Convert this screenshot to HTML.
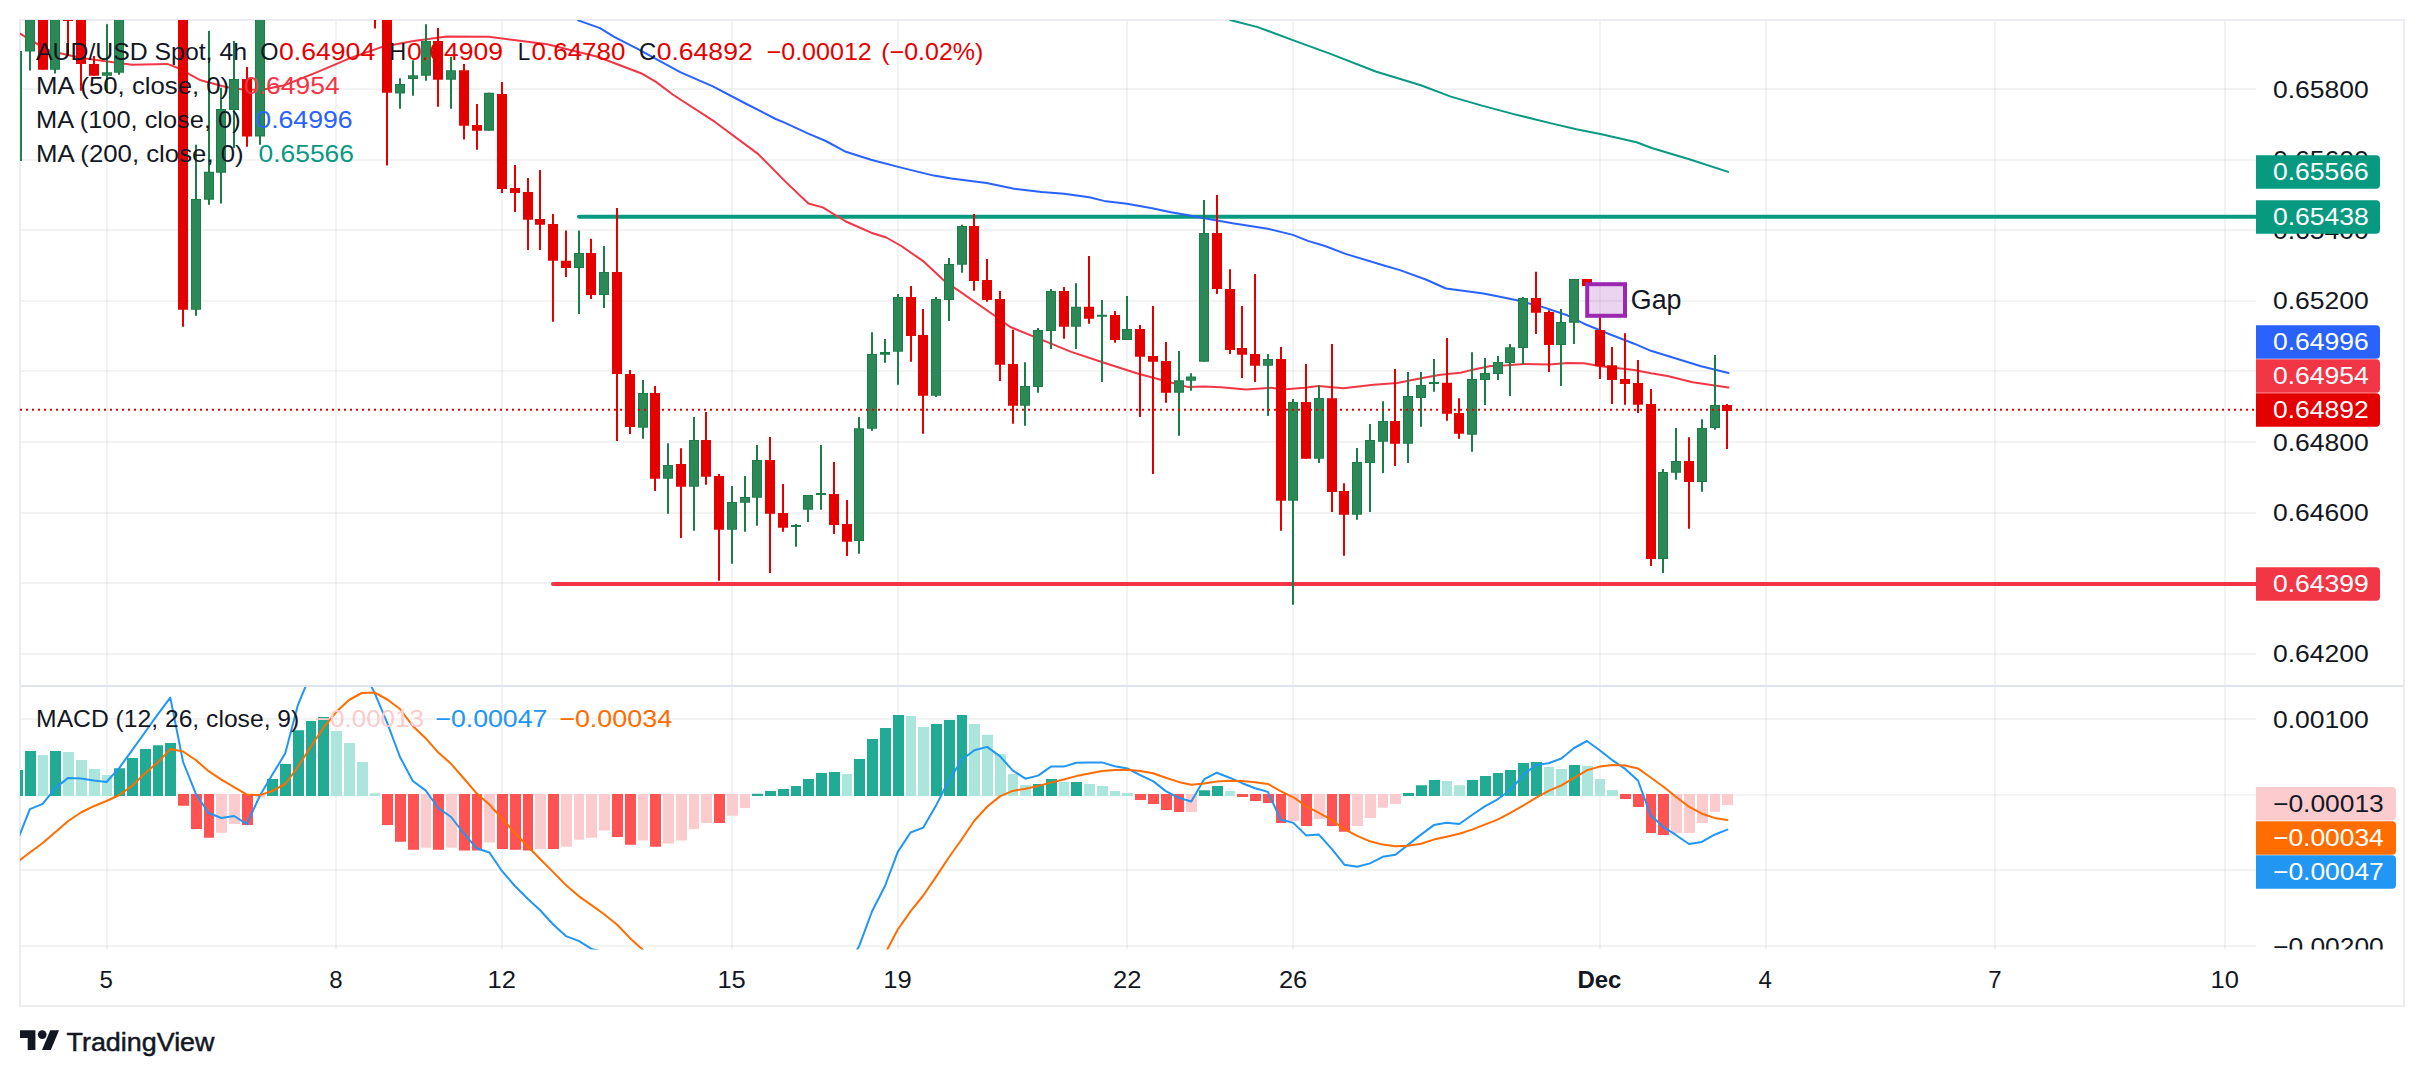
<!DOCTYPE html>
<html lang="en"><head><meta charset="utf-8"><title>AUD/USD Spot 4h chart</title>
<style>html,body{margin:0;padding:0;background:#fff;}body{width:2424px;height:1076px;overflow:hidden;}svg{display:block;}text{font-family:"Liberation Sans", Arial, sans-serif;font-size:24px;white-space:pre;}</style></head><body>
<svg width="2424" height="1076" viewBox="0 0 2424 1076" fill="#131722">
<defs>
<clipPath id="cp"><rect x="20" y="20" width="2236" height="666"/></clipPath>
<clipPath id="cm"><rect x="20" y="687" width="2236" height="262.5"/></clipPath>
</defs>
<rect width="2424" height="1076" fill="#fff"/>
<path d="M107 21V949.5M336 21V949.5M502 21V949.5M732 21V949.5M898 21V949.5M1127 21V949.5M1293 21V949.5M1600 21V949.5M1766 21V949.5M1995 21V949.5M2225 21V949.5" stroke="rgba(42,46,57,0.06)" stroke-width="2" fill="none"/>
<path d="M21 89H2256M21 160H2256M21 230H2256M21 301H2256M21 371H2256M21 442H2256M21 513H2256M21 583H2256M21 654H2256M21 719H2256M21 795H2256M21 870H2256M21 946H2256" stroke="rgba(42,46,57,0.06)" stroke-width="2" fill="none"/>
<rect x="20" y="20" width="2384" height="986" fill="none" stroke="#ebecf2" stroke-width="2"/>
<rect x="21" y="685" width="2382" height="2" fill="#e0e3eb"/>
<g>
<text x="2273" y="97.5" textLength="95.8" lengthAdjust="spacingAndGlyphs">0.65800</text>
<text x="2273" y="168.1" textLength="95.8" lengthAdjust="spacingAndGlyphs">0.65600</text>
<text x="2273" y="238.7" textLength="95.8" lengthAdjust="spacingAndGlyphs">0.65400</text>
<text x="2273" y="309.3" textLength="95.8" lengthAdjust="spacingAndGlyphs">0.65200</text>
<text x="2273" y="379.9" textLength="95.8" lengthAdjust="spacingAndGlyphs">0.65000</text>
<text x="2273" y="450.5" textLength="95.8" lengthAdjust="spacingAndGlyphs">0.64800</text>
<text x="2273" y="521.1" textLength="95.8" lengthAdjust="spacingAndGlyphs">0.64600</text>
<text x="2273" y="591.7" textLength="95.8" lengthAdjust="spacingAndGlyphs">0.64400</text>
<text x="2273" y="662.3" textLength="95.8" lengthAdjust="spacingAndGlyphs">0.64200</text>
<text x="2273" y="727.5" textLength="95.8" lengthAdjust="spacingAndGlyphs">0.00100</text>
<text x="2273" y="803.5" textLength="95.8" lengthAdjust="spacingAndGlyphs">0.00000</text>
<text x="2273" y="878.8" textLength="110.8" lengthAdjust="spacingAndGlyphs">−0.00100</text>
</g>
<clipPath id="cb"><rect x="2256" y="900" width="148" height="49.5"/></clipPath>
<g clip-path="url(#cb)"><text x="2273" y="954.7" textLength="110.8" lengthAdjust="spacingAndGlyphs">−0.00200</text></g>
<g clip-path="url(#cp)">
<path d="M579 216.8H2260" stroke="#089981" stroke-width="4" stroke-linecap="round" fill="none"/>
<path d="M553 583.9H2260" stroke="#f23645" stroke-width="4" stroke-linecap="round" fill="none"/>
<path d="M1230.1 20L1257.7 27.1L1292.8 40.1L1330.5 53.9L1375.7 71.5L1420.8 85.3L1450.9 96.6L1481.1 105.4L1513.7 114.1L1551.3 123.4L1576.4 129.2L1601.5 134.2L1636.6 142.2L1651.7 148L1689.3 159.3L1728.2 171.9" stroke="#089981" stroke-width="2" fill="none" stroke-linejoin="round" stroke-linecap="round"/>
<path d="M578.2 20.4L600 28.1L614.2 36.8L637.6 48.9L647.6 54.3L680.7 72.4L712.9 86.3L745.5 103.5L775.7 119L784 122.4L808.3 133.7L825.8 141L845.9 151.8L871 159.8L901.1 167.6L933.8 175.6L951.3 178.6L986.6 183L1014.1 188.7L1041.7 191.9L1064.2 193.7L1089.3 197.3L1104 200.9L1127 203.7L1152.1 208.2L1170.9 212.3L1187.2 215L1204.4 218.3L1232.6 223.3L1267.8 228.7L1292.9 234.9L1307.9 240.9L1325 246L1345.5 253.9L1385.7 266L1400 270.1L1425.8 279.5L1446 288.5L1483.6 293.6L1517.1 300.3L1542.2 306.9L1567.3 315.3L1584 323.7L1609.1 334L1634.2 343.7L1650.9 350.8L1676 358.5L1701.1 366.3L1728.5 373" stroke="#2962ff" stroke-width="2" fill="none" stroke-linejoin="round" stroke-linecap="round"/>
<path d="M20.3 33.7L30 40L50.2 51L80.3 57.7L103.7 61L132.2 64.7L167.3 63.9L177.3 67.7L200.7 80.3L225.8 87L242.6 89.5L261 90L284.4 85.3L317.8 71.9L351.3 57.7L381.4 47.1L413.5 40.9L447 36.4L488.7 36.8L513.8 40.1L547.3 44.3L597.5 56.8L641 73.2L656 81.9L672.7 94.5L714.6 121.7L758 153.9L785.7 181.9L808.4 203.5L822.7 207.4L845.9 221.5L871.2 232.7L886.3 237.5L901.3 246L923.1 261.1L944 280.5L953.5 287.1L991.9 313.8L1010.3 327L1037.1 337.9L1070.6 351.6L1104 362.7L1137.5 373.5L1162.6 380.2L1187.6 386.9L1204.4 386.4L1221.1 387.2L1246.2 389.4L1271.3 387.7L1283 389.4L1304.7 387.7L1318.4 386.1L1343.5 388.3L1373.6 384.8L1397.1 383.1L1423.8 377.8L1440.6 374.8L1460.6 372.8L1474 369.4L1490.7 365.9L1507.5 365.2L1524.2 363.9L1549.3 364.4L1567.3 363L1584 363.3L1600.7 366.3L1634.2 369.9L1650.9 373.2L1667.6 376L1692.7 382.3L1728.5 387.6" stroke="#f23645" stroke-width="2" fill="none" stroke-linejoin="round" stroke-linecap="round"/>
<path d="M17 51V161M30 0V70.5M55 0V73.6M107 24.2V92.5M119 0V74.7M196 144.7V315.8M209 30.9V204.8M221 87.8V203.6M234 41V148M260 0V144.7M400 78.3V108.7M413 60.2V95.8M426 24.2V80.8M451 56.8V108.7M489 92.8V130.8M579 230.6V314.1M604 246V307.9M643 380.1V438.7M668 443.2V513.8M694 417V530.8M732 486V563.8M745 476V531.7M757 445V525.8M796 524V546.7M808 495V522M821 445V509.8M859 417V553.7M872 332.2V430.8M885 338.9V362.8M898 294V384.8M936 297.1V397M949 258.1V320.9M962 224.8V272.8M1025 362.2V425.7M1038 328V392.8M1051 289.1V348.9M1076 283.2V348.9M1102 299.9V381.9M1127 295.9V339.9M1179 351V435.8M1191 373.2V390.8M1204 200.1V361.8M1268 354V415.9M1293 399.1V604.8M1319 385.2V462.9M1357 448V519.8M1370 424.1V511.9M1383 401.2V472.9M1408 371.9V462.9M1421 371.9V426.8M1434 359V391.7M1472 352.2V451.8M1485 358V405M1498 356V380M1510 344V395.9M1523 296.9V364M1561 309V385.9M1574 279V344M1663 469V573M1676 428V479.8M1702 419.3V491.7M1715 355.1V429.8" stroke="#1b7e47" stroke-width="2" fill="none"/>
<path d="M12 51h10v110h-10zM25 0h10v51.5h-10zM50 0h10v69.7h-10zM102 72.2h10v3.5h-10zM114 0h10v72.7h-10zM191 198.9h10v110.9h-10zM204 171.8h10v28h-10zM216 109h10v63.7h-10zM229 78.9h10v31h-10zM255 0h10v136.6h-10zM395 84.1h10v9.5h-10zM408 75.2h10v3.7h-10zM421 40.9h10v34.8h-10zM446 70.2h10v9.6h-10zM484 92.8h10v38h-10zM574 253.1h10v15h-10zM599 272h10v23.1h-10zM638 393h10v34.8h-10zM663 465h10v13.8h-10zM689 440h10v46.8h-10zM727 501.9h10v27.9h-10zM740 496.9h10v5.8h-10zM752 460h10v37.7h-10zM791 525h10v2h-10zM803 495h10v14.8h-10zM816 493h10v2h-10zM854 428.2h10v112.7h-10zM867 354h10v74.7h-10zM880 352h10v2.8h-10zM893 297.1h10v54.7h-10zM931 299.1h10v96.7h-10zM944 264.1h10v35.8h-10zM957 226h10v38.8h-10zM1020 386.1h10v19.7h-10zM1033 330h10v56.9h-10zM1046 290.9h10v40h-10zM1071 306.8h10v20h-10zM1097 314.7h10v2.1h-10zM1122 329h10v10.9h-10zM1174 380.2h10v12.6h-10zM1186 376.4h10v4.3h-10zM1199 233h10v128.8h-10zM1263 359h10v6.7h-10zM1288 402h10v98.7h-10zM1314 398.1h10v60.7h-10zM1352 462h10v52.8h-10zM1365 440h10v22.9h-10zM1378 420.9h10v20.9h-10zM1403 395.9h10v47.9h-10zM1416 385h10v12.9h-10zM1429 382h10v2h-10zM1467 379h10v55.7h-10zM1480 373.1h10v6.9h-10zM1493 361.9h10v12h-10zM1505 347.2h10v15.9h-10zM1518 298.1h10v49.8h-10zM1556 322h10v23h-10zM1569 279h10v43.8h-10zM1658 472h10v86.9h-10zM1671 461.1h10v11.7h-10zM1697 428.1h10v53.9h-10zM1710 405h10v23h-10z" fill="#1b7e47"/>
<path d="M13 52h8v108h-8zM26 1h8v49.5h-8zM51 1h8v67.7h-8zM103 73.2h8v1.5h-8zM115 1h8v70.7h-8zM192 199.9h8v108.9h-8zM205 172.8h8v26h-8zM217 110h8v61.7h-8zM230 79.9h8v29h-8zM256 1h8v134.6h-8zM396 85.1h8v7.5h-8zM409 76.2h8v1.7h-8zM422 41.9h8v32.8h-8zM447 71.2h8v7.6h-8zM485 93.8h8v36h-8zM575 254.1h8v13h-8zM600 273h8v21.1h-8zM639 394h8v32.8h-8zM664 466h8v11.8h-8zM690 441h8v44.8h-8zM728 502.9h8v25.9h-8zM741 497.9h8v3.8h-8zM753 461h8v35.7h-8zM804 496h8v12.8h-8zM855 429.2h8v110.7h-8zM868 355h8v72.7h-8zM894 298.1h8v52.7h-8zM932 300.1h8v94.7h-8zM945 265.1h8v33.8h-8zM958 227h8v36.8h-8zM1021 387.1h8v17.7h-8zM1034 331h8v54.9h-8zM1047 291.9h8v38h-8zM1072 307.8h8v18h-8zM1123 330h8v8.9h-8zM1175 381.2h8v10.6h-8zM1187 377.4h8v2.3h-8zM1200 234h8v126.8h-8zM1264 360h8v4.7h-8zM1289 403h8v96.7h-8zM1315 399.1h8v58.7h-8zM1353 463h8v50.8h-8zM1366 441h8v20.9h-8zM1379 421.9h8v18.9h-8zM1404 396.9h8v45.9h-8zM1417 386h8v10.9h-8zM1468 380h8v53.7h-8zM1481 374.1h8v4.9h-8zM1494 362.9h8v10h-8zM1506 348.2h8v13.9h-8zM1519 299.1h8v47.8h-8zM1557 323h8v21h-8zM1570 280h8v41.8h-8zM1659 473h8v84.9h-8zM1672 462.1h8v9.7h-8zM1698 429.1h8v51.9h-8zM1711 406h8v21h-8z" fill="#2d8857"/>
<path d="M43 0V69.7M68 0V56M81 0V90.8M94 56V75.7M183 0V326.7M247 66.9V146.8M375 0V28.4M387 0V165.6M438 28.1V106.7M464 64V139.6M477 104V149.7M502 81.9V193.1M515 165.1V212M528 178V249.9M540 170.1V249.9M553 214V321.8M566 230.6V277M591 238.8V299.1M617 207.9V440.9M630 370.1V434M655 386V491M681 448.2V537.9M706 411.9V484.8M719 474V580.8M770 437V573M783 484V531.7M834 462.1V534M847 500V555.9M911 285.9V361.8M923 309.1V433.8M974 214V290.7M987 259.1V301.8M1000 290.9V381.1M1013 329.7V423.7M1064 287.1V338.8M1089 256.1V323.8M1115 311V342.8M1140 325V417M1153 306V473.9M1166 342V402.8M1217 195.1V294.1M1230 269.2V354M1242 306V378M1255 274V381.9M1281 347V530.8M1306 364V458.8M1332 344V511.9M1344 483.2V555.8M1395 369.1V465.9M1447 338.1V420.8M1459 398.2V438.8M1536 271.8V334M1549 310.2V371.9M1587 279V288M1600 316V378.9M1612 347.1V404M1625 333.2V404.8M1638 360V412.9M1651 389V566M1689 437.2V528.8M1727 403.9V448.9" stroke="#e50000" stroke-width="2" fill="none"/>
<path d="M38 0h10v69.7h-10zM63 0h10v21h-10zM76 0h10v63.9h-10zM89 63.9h10v11.8h-10zM178 0h10v309.8h-10zM242 78.9h10v57.7h-10zM370 0h10v10h-10zM382 0h10v92.8h-10zM433 40.9h10v38.9h-10zM459 70.2h10v55.6h-10zM472 125.1h10v5.7h-10zM497 94h10v94.9h-10zM510 188h10v5.1h-10zM523 191.9h10v27.9h-10zM535 219h10v5.8h-10zM548 224h10v36.8h-10zM561 260.8h10v7.3h-10zM586 253.1h10v42h-10zM612 272h10v102h-10zM625 374h10v53h-10zM650 393h10v85.8h-10zM676 464.1h10v22.7h-10zM701 440h10v36.8h-10zM714 476h10v53.8h-10zM765 460h10v53.8h-10zM778 513.1h10v14.7h-10zM829 493.9h10v31.1h-10zM842 524h10v17.7h-10zM906 297.1h10v38.8h-10zM918 335.1h10v60.7h-10zM969 226h10v54.9h-10zM982 280h10v19.9h-10zM995 299.1h10v65.7h-10zM1008 364h10v41.8h-10zM1059 290.9h10v35.9h-10zM1084 306.8h10v12h-10zM1110 315h10v24.9h-10zM1135 329h10v27.8h-10zM1148 356h10v5.8h-10zM1161 361h10v31.8h-10zM1212 233h10v56.1h-10zM1225 289.1h10v60.9h-10zM1237 348.1h10v6.7h-10zM1250 354h10v11.7h-10zM1276 359h10v141.7h-10zM1301 402h10v56.8h-10zM1327 398.2h10v93.7h-10zM1339 491h10v23.8h-10zM1390 420.9h10v22.9h-10zM1442 382.8h10v31h-10zM1454 412.9h10v20.9h-10zM1531 298.1h10v14.6h-10zM1544 312h10v33h-10zM1582 279h10v7h-10zM1595 330h10v36.2h-10zM1607 365.2h10v14.8h-10zM1620 379h10v5h-10zM1633 382.9h10v21.9h-10zM1646 404h10v154.9h-10zM1684 461.1h10v20.9h-10zM1722 405h10v5.9h-10z" fill="#e50000"/>
<path d="M20 409.8H2256" stroke="#e50000" stroke-width="2" stroke-dasharray="2 4" fill="none"/>
<rect x="1587.2" y="284.2" width="37.8" height="31.6" fill="#9c27b0" fill-opacity="0.2" stroke="#9c27b0" stroke-width="4"/>
<text x="1630.8" y="308.6" style="font-size:27px" textLength="50.7" lengthAdjust="spacingAndGlyphs">Gap</text>
</g>
<g clip-path="url(#cm)">
<path d="M12 770h11v26h-11zM25 751.1h11v44.9h-11zM50 751.1h11v44.9h-11zM114 768.2h11v27.8h-11zM127 758.1h11v37.9h-11zM140 749.1h11v46.9h-11zM153 745.2h10v50.8h-10zM165 743.1h11v52.9h-11zM267 779h11v17h-11zM280 764.1h11v31.9h-11zM293 730.2h11v65.8h-11zM306 721h10v75h-10zM318 717.1h11v78.9h-11zM752 793.7h11v2.3h-11zM765 790.9h11v5.1h-11zM778 789h11v7h-11zM791 785.9h10v10.1h-10zM803 779h11v17h-11zM816 773.1h11v22.9h-11zM829 772h11v24h-11zM854 758.9h11v37.1h-11zM867 739h11v57h-11zM880 728.1h11v67.9h-11zM893 715.1h11v80.9h-11zM931 724h11v72h-11zM944 720.1h11v75.9h-11zM957 715.1h10v80.9h-10zM1033 784h11v12h-11zM1046 779h11v17h-11zM1071 782h11v14h-11zM1199 790.3h11v5.7h-11zM1212 786.1h11v9.9h-11zM1403 793.1h11v2.9h-11zM1416 785.2h11v10.8h-11zM1429 779.9h11v16.1h-11zM1467 780h11v16h-11zM1480 776.1h11v19.9h-11zM1493 773.1h10v22.9h-10zM1505 769.9h11v26.1h-11zM1518 763.1h11v32.9h-11zM1531 761.9h11v34.1h-11zM1569 764.9h11v31.1h-11z" fill="#22ab94"/>
<path d="M38 754.9h10v41.1h-10zM63 751.9h11v44.1h-11zM76 760h11v36h-11zM89 769h11v27h-11zM102 775h10v21h-10zM331 731h11v65h-11zM344 743.1h11v52.9h-11zM357 762h11v34h-11zM370 793.2h10v2.8h-10zM842 774h10v22h-10zM906 715.9h10v80.1h-10zM918 727.1h11v68.9h-11zM969 724h11v72h-11zM982 734.8h11v61.2h-11zM995 753.9h11v42.1h-11zM1008 774h10v22h-10zM1020 785h11v11h-11zM1059 782h10v14h-10zM1084 784h11v12h-11zM1097 786h11v10h-11zM1110 791h10v5h-10zM1122 793h11v3h-11zM1225 791.1h10v4.9h-10zM1442 781.1h10v14.9h-10zM1454 785.3h11v10.7h-11zM1544 766.9h10v29.1h-10zM1556 768.9h11v27.1h-11zM1582 766.1h11v29.9h-11zM1595 779h10v17h-10zM1607 790h11v6h-11z" fill="#ace5dc"/>
<path d="M178 794h11v11.8h-11zM191 794h11v34.9h-11zM204 794h10v43.7h-10zM242 794h11v30.9h-11zM382 794h11v30.9h-11zM395 794h11v47.8h-11zM408 794h11v55.8h-11zM433 794h11v55.8h-11zM459 794h11v56.6h-11zM472 794h10v56.6h-10zM497 794h11v55h-11zM510 794h11v55.8h-11zM523 794h10v56.6h-10zM548 794h11v55h-11zM612 794h11v42.9h-11zM625 794h11v50.8h-11zM650 794h11v52.8h-11zM714 794h11v29h-11zM1135 794h11v6h-11zM1148 794h11v10h-11zM1161 794h11v16h-11zM1174 794h10v18h-10zM1237 794h11v3h-11zM1250 794h11v7.1h-11zM1263 794h11v9.1h-11zM1276 794h10v28.9h-10zM1301 794h11v31.9h-11zM1327 794h10v31.9h-10zM1339 794h11v37.7h-11zM1620 794h11v5h-11zM1633 794h11v13.1h-11zM1646 794h10v39h-10zM1658 794h11v41h-11z" fill="#ff5252"/>
<path d="M216 794h11v38.7h-11zM229 794h11v29.9h-11zM255 794h10v3.6h-10zM421 794h10v53.8h-10zM446 794h11v53.8h-11zM484 794h11v48.6h-11zM535 794h11v55h-11zM561 794h11v52.8h-11zM574 794h10v45.8h-10zM586 794h11v43.7h-11zM599 794h11v36.6h-11zM638 794h10v46.6h-10zM663 794h11v49.6h-11zM676 794h11v46.6h-11zM689 794h10v34.9h-10zM701 794h11v29h-11zM727 794h11v21.8h-11zM740 794h10v14h-10zM1186 794h11v18h-11zM1288 794h11v26.9h-11zM1314 794h11v25h-11zM1352 794h11v31.9h-11zM1365 794h11v23.9h-11zM1378 794h10v13.8h-10zM1390 794h11v10h-11zM1671 794h11v39h-11zM1684 794h11v39h-11zM1697 794h11v29h-11zM1710 794h10v17.7h-10zM1722 794h11v11.1h-11z" fill="#fccbcd"/>
<path d="M17.2 841L29.9 809.1L42.7 803.8L55.5 787.9L68.2 777.9L81 778.4L93.8 780.4L106.5 782L119.3 767.8L132 750.3L144.8 732.5L157.6 714.6L170.3 697.6L183.1 762L195.8 793.7L208.6 813L221.4 818L234.1 816L246.9 824.2L259.7 796L272.4 774.5L285.2 753.5L297.9 705.1L310.7 674L323.5 650L336.2 640L349 650L361.8 668L374.5 692.7L387.3 723.2L400 757L412.8 781L425.6 790.4L438.3 808L451.1 817L463.9 833.5L476.6 848.2L489.4 852.5L502.1 871.2L514.9 886L527.7 898.8L540.4 910.5L553.2 924.5L565.9 936.1L578.7 940.9L591.5 948.9L604.2 952L617 966L629.8 1000L642.5 1000L655.3 1000L668 1000L680.8 1000L693.6 1000L706.3 1000L719.1 1000L731.9 1000L744.6 1000L757.4 1000L770.1 1000L782.9 1000L795.7 1000L808.4 1000L821.2 1000L833.9 1000L846.7 969L859.5 945.2L872.2 911L885 886L897.8 851.9L910.5 832.5L923.3 827.6L936 805.6L948.8 780.8L961.6 760L974.3 750.2L987.1 746.9L999.9 756.1L1012.6 770.3L1025.4 778.7L1038.1 775.6L1050.9 766.6L1063.7 766.6L1076.4 762.8L1089.2 762.4L1102 762.4L1114.7 766.3L1127.5 768.5L1140.2 775.2L1153 781.1L1165.8 791.1L1178.5 797.8L1191.3 801.5L1204 779.4L1216.8 772.7L1229.6 777.7L1242.3 783.2L1255.1 788.2L1267.9 791.9L1280.6 819.5L1293.4 822.9L1306.1 835.4L1318.9 834.6L1331.7 848.8L1344.4 864.7L1357.2 866.7L1370 863.4L1382.7 856.8L1395.5 854.7L1408.2 844.6L1421 834.6L1433.8 825.1L1446.5 822.7L1459.3 824L1472 815L1484.8 806.4L1497.6 799.3L1510.3 790L1523.1 775.3L1535.9 764.9L1548.6 763.2L1561.4 758.5L1574.1 748L1586.9 741L1599.7 750.2L1612.4 760.2L1625.2 768.9L1638 780.5L1650.7 815.4L1663.5 827.1L1676.2 835.2L1689 844L1701.8 841.9L1714.5 834.7L1727.3 829.6" stroke="#2196f3" stroke-width="2" fill="none" stroke-linejoin="round" stroke-linecap="round"/>
<path d="M17.2 862L29.9 852.5L42.7 843L55.5 832L68.2 821L81 812.5L93.8 806.2L106.5 801L119.3 795L132 786L144.8 773.5L157.6 762.5L170.3 749.1L183.1 751.5L195.8 760L208.6 771.2L221.4 779.7L234.1 787.1L246.9 794.6L259.7 795.1L272.4 791L285.2 784L297.9 767L310.7 746.7L323.5 727.7L336.2 712L349 700L361.8 693L374.5 692.5L387.3 699.5L400 709L412.8 726L425.6 738.2L438.3 752.6L451.1 763.8L463.9 778.5L476.6 793.3L489.4 804.6L502.1 818.5L514.9 833L527.7 846.2L540.4 859.3L553.2 872.1L565.9 885L578.7 896.1L591.5 905.1L604.2 914.3L617 924.5L629.8 937.9L642.5 949.5L655.3 962L668 1000L680.8 1000L693.6 1000L706.3 1000L719.1 1000L731.9 1000L744.6 1000L757.4 1000L770.1 1000L782.9 1000L795.7 1000L808.4 1000L821.2 1000L833.9 1000L846.7 1000L859.5 1000L872.2 967L885 953.7L897.8 929.5L910.5 911.4L923.3 895.5L936 876.9L948.8 857.5L961.6 839.5L974.3 820.7L987.1 806.8L999.9 796.4L1012.6 790.9L1025.4 788.8L1038.1 786L1050.9 782.6L1063.7 779.5L1076.4 776.1L1089.2 773.6L1102 771.1L1114.7 770.1L1127.5 769.7L1140.2 771L1153 773.2L1165.8 777.7L1178.5 781.9L1191.3 784.7L1204 783.6L1216.8 781.6L1229.6 780.7L1242.3 781.1L1255.1 782.2L1267.9 783.9L1280.6 791.1L1293.4 797.3L1306.1 806.1L1318.9 812.8L1331.7 819.9L1344.4 829.2L1357.2 835.9L1370 841.3L1382.7 844.6L1395.5 846.3L1408.2 845.8L1421 843.8L1433.8 839.6L1446.5 836.8L1459.3 833.8L1472 829.6L1484.8 824.6L1497.6 819.6L1510.3 812.9L1523.1 805.7L1535.9 797.9L1548.6 790.8L1561.4 785.3L1574.1 777.8L1586.9 770.3L1599.7 766.6L1612.4 764.9L1625.2 765.6L1638 768.4L1650.7 777.5L1663.5 786.7L1676.2 797L1689 806.7L1701.8 813.7L1714.5 817.9L1727.3 820.1" stroke="#ff6d00" stroke-width="2" fill="none" stroke-linejoin="round" stroke-linecap="round"/>
</g>
<text x="36" y="60" textLength="211" lengthAdjust="spacingAndGlyphs">AUD/USD Spot, 4h</text>
<text x="260.3" y="60" textLength="18.2" lengthAdjust="spacingAndGlyphs">O</text>
<text x="279" y="60" textLength="96.2" lengthAdjust="spacingAndGlyphs" fill="#e50000">0.64904</text>
<text x="389.3" y="60" textLength="17" lengthAdjust="spacingAndGlyphs">H</text>
<text x="407" y="60" textLength="96" lengthAdjust="spacingAndGlyphs" fill="#e50000">0.64909</text>
<text x="517.8" y="60" textLength="12.5" lengthAdjust="spacingAndGlyphs">L</text>
<text x="531.6" y="60" textLength="93.8" lengthAdjust="spacingAndGlyphs" fill="#e50000">0.64780</text>
<text x="639.1" y="60" textLength="17.3" lengthAdjust="spacingAndGlyphs">C</text>
<text x="656.7" y="60" textLength="96" lengthAdjust="spacingAndGlyphs" fill="#e50000">0.64892</text>
<text x="766.6" y="60" textLength="105.2" lengthAdjust="spacingAndGlyphs" fill="#e50000">−0.00012</text>
<text x="881.3" y="60" textLength="102.1" lengthAdjust="spacingAndGlyphs" fill="#e50000">(−0.02%)</text>
<text x="36" y="94.3" textLength="193.2" lengthAdjust="spacingAndGlyphs">MA (50, close, 0)</text>
<text x="244" y="94.3" textLength="95.7" lengthAdjust="spacingAndGlyphs" fill="#f23645">0.64954</text>
<text x="36" y="128.3" textLength="204.6" lengthAdjust="spacingAndGlyphs">MA (100, close, 0)</text>
<text x="256.3" y="128.3" textLength="96.4" lengthAdjust="spacingAndGlyphs" fill="#2962ff">0.64996</text>
<text x="36" y="162.3" textLength="207.6" lengthAdjust="spacingAndGlyphs">MA (200, close, 0)</text>
<text x="258.5" y="162.3" textLength="95.5" lengthAdjust="spacingAndGlyphs" fill="#089981">0.65566</text>
<text x="36.1" y="727" textLength="263.2" lengthAdjust="spacingAndGlyphs">MACD (12, 26, close, 9)</text>
<text x="314.9" y="727" textLength="109" lengthAdjust="spacingAndGlyphs" fill="#fccbcd">−0.00013</text>
<text x="435.3" y="727" textLength="112.1" lengthAdjust="spacingAndGlyphs" fill="#2196f3">−0.00047</text>
<text x="559.2" y="727" textLength="113" lengthAdjust="spacingAndGlyphs" fill="#ff6d00">−0.00034</text>
<path d="M2256 155.2h120a4 4 0 0 1 4 4v25.5a4 4 0 0 1 -4 4h-120z" fill="#089981"/>
<text x="2273" y="180.4" textLength="95.8" lengthAdjust="spacingAndGlyphs" fill="#fff">0.65566</text>
<path d="M2256 200.2h120a4 4 0 0 1 4 4v25.5a4 4 0 0 1 -4 4h-120z" fill="#089981"/>
<text x="2273" y="225.4" textLength="95.8" lengthAdjust="spacingAndGlyphs" fill="#fff">0.65438</text>
<path d="M2256 325.2h120a4 4 0 0 1 4 4v25.5a4 4 0 0 1 -4 4h-120z" fill="#2962ff"/>
<text x="2273" y="350.4" textLength="95.8" lengthAdjust="spacingAndGlyphs" fill="#fff">0.64996</text>
<path d="M2256 359.2h120a4 4 0 0 1 4 4v25.5a4 4 0 0 1 -4 4h-120z" fill="#f23645"/>
<text x="2273" y="384.4" textLength="95.8" lengthAdjust="spacingAndGlyphs" fill="#fff">0.64954</text>
<path d="M2256 393.2h120a4 4 0 0 1 4 4v25.5a4 4 0 0 1 -4 4h-120z" fill="#e50000"/>
<text x="2273" y="418.4" textLength="95.8" lengthAdjust="spacingAndGlyphs" fill="#fff">0.64892</text>
<path d="M2256 567.2h120a4 4 0 0 1 4 4v25.5a4 4 0 0 1 -4 4h-120z" fill="#f23645"/>
<text x="2273" y="592.4" textLength="95.8" lengthAdjust="spacingAndGlyphs" fill="#fff">0.64399</text>
<path d="M2256 787h136a4 4 0 0 1 4 4v25.5a4 4 0 0 1 -4 4h-136z" fill="#fccbcd"/>
<text x="2273" y="812.1" textLength="110.8" lengthAdjust="spacingAndGlyphs" fill="#131722">−0.00013</text>
<path d="M2256 821.2h136a4 4 0 0 1 4 4v25.5a4 4 0 0 1 -4 4h-136z" fill="#ff6d00"/>
<text x="2273" y="846.4" textLength="110.8" lengthAdjust="spacingAndGlyphs" fill="#fff">−0.00034</text>
<path d="M2256 855.2h136a4 4 0 0 1 4 4v25.5a4 4 0 0 1 -4 4h-136z" fill="#2196f3"/>
<text x="2273" y="880.4" textLength="110.8" lengthAdjust="spacingAndGlyphs" fill="#fff">−0.00047</text>
<text x="106.2" y="988" text-anchor="middle">5</text>
<text x="335.9" y="988" text-anchor="middle">8</text>
<text x="487.6" y="988" textLength="28.4" lengthAdjust="spacingAndGlyphs">12</text>
<text x="717.4" y="988" textLength="28.4" lengthAdjust="spacingAndGlyphs">15</text>
<text x="883.3" y="988" textLength="28.4" lengthAdjust="spacingAndGlyphs">19</text>
<text x="1113" y="988" textLength="28.4" lengthAdjust="spacingAndGlyphs">22</text>
<text x="1278.9" y="988" textLength="28.4" lengthAdjust="spacingAndGlyphs">26</text>
<text x="1599.4" y="988" text-anchor="middle" font-weight="bold">Dec</text>
<text x="1765.3" y="988" text-anchor="middle">4</text>
<text x="1995" y="988" text-anchor="middle">7</text>
<text x="2210.5" y="988" textLength="28.4" lengthAdjust="spacingAndGlyphs">10</text>
<g transform="translate(20 1025.8) scale(1.1)" fill="#131722">
<path d="M14 22H7V11H0V4h14v18z"/><circle cx="20.2" cy="8" r="4"/><path d="M28 22h-8l7.5-18h8L28 22z"/>
</g>
<text x="66.5" y="1050.7" style="font-size:26px" textLength="148" lengthAdjust="spacingAndGlyphs" stroke="#131722" stroke-width="0.5">TradingView</text>
</svg></body></html>
